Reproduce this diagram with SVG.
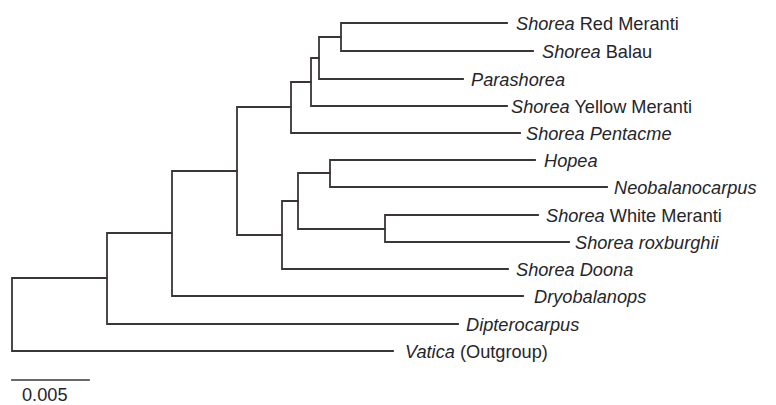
<svg xmlns="http://www.w3.org/2000/svg" width="776" height="405" viewBox="0 0 776 405">
<style>
.br{fill:none;stroke:#3a3636;stroke-width:1.8;stroke-linecap:square}
text{font-family:"Liberation Sans",Arial,Helvetica,sans-serif;font-size:18.2px;fill:#26262a}
.i{font-style:italic}
</style>
<rect width="776" height="405" fill="#ffffff"/>
<g id="connectors">
<path class="br" d="M107 278H12V351H393"/>
<path class="br" d="M172 233H107V324H458"/>
<path class="br" d="M237 171H172V296H523"/>
<path class="br" d="M291 107H237V235H282"/>
<path class="br" d="M311 82H291V133H520"/>
<path class="br" d="M319 58H311V106H507"/>
<path class="br" d="M341 37H319V79H463"/>
<path class="br" d="M507 23H341V51H533"/>
<path class="br" d="M298 201H282V269H508"/>
<path class="br" d="M330 173H298V229H385"/>
<path class="br" d="M535 160H330V187H607"/>
<path class="br" d="M538 215H385V242H569"/>
</g>
<g id="leaf-red-meranti"><text x="516" y="30"><tspan class="i">Shorea</tspan> Red Meranti</text></g>
<g id="leaf-balau"><text x="542" y="58"><tspan class="i">Shorea</tspan> Balau</text></g>
<g id="leaf-parashorea"><text x="471" y="86" class="i">Parashorea</text></g>
<g id="leaf-yellow-meranti"><text x="511" y="113"><tspan class="i">Shorea</tspan> Yellow Meranti</text></g>
<g id="leaf-pentacme"><text x="526" y="140" class="i">Shorea Pentacme</text></g>
<g id="leaf-hopea"><text x="544" y="167" class="i">Hopea</text></g>
<g id="leaf-neobalanocarpus"><text x="614" y="194" class="i">Neobalanocarpus</text></g>
<g id="leaf-white-meranti"><text x="546" y="222"><tspan class="i">Shorea</tspan> White Meranti</text></g>
<g id="leaf-roxburghii"><text x="575" y="249" class="i">Shorea roxburghii</text></g>
<g id="leaf-doona"><text x="516" y="276" class="i">Shorea Doona</text></g>
<g id="leaf-dryobalanops"><text x="534" y="303" class="i">Dryobalanops</text></g>
<g id="leaf-dipterocarpus"><text x="466" y="331" class="i">Dipterocarpus</text></g>
<g id="leaf-vatica"><text x="405" y="358"><tspan class="i">Vatica</tspan> (Outgroup)</text></g>
<g id="scale-bar">
<path class="br" d="M12 380H89" style="stroke:#6a6868"/>
<text x="22" y="401">0.005</text>
</g>
</svg>
